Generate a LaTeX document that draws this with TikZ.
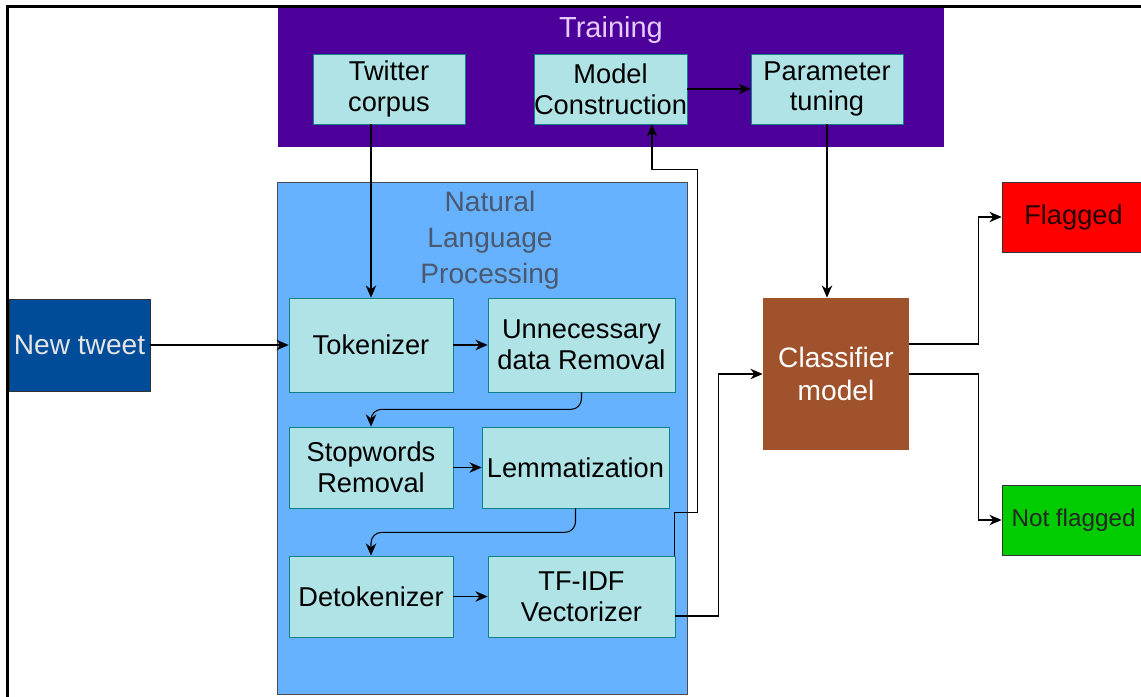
\documentclass[tikz,border=0pt]{standalone}
\usepackage{fontspec}
\setmainfont{Liberation Sans}
\usetikzlibrary{positioning,calc,arrows.meta}
\definecolor{train}{HTML}{4C0099}
\definecolor{trainfont}{HTML}{E5CCFF}
\definecolor{procfill}{HTML}{B0E3E6}
\definecolor{procline}{HTML}{0E8088}
\definecolor{nlpfill}{HTML}{66B2FF}
\definecolor{nlpfont}{HTML}{4A5870}
\definecolor{tweetfill}{HTML}{004C99}
\definecolor{classfill}{HTML}{A0522D}
\definecolor{flagfill}{HTML}{FF0000}
\definecolor{okfill}{HTML}{00CC00}

\tikzset{
  proc/.style={draw=procline, fill=procfill, inner sep=0pt, align=center,
    font=\fontsize{15.5}{17.5}\selectfont},
  group/.style={inner sep=0pt},
  result/.style={draw=black!80, inner sep=0pt, minimum width=2.86cm, minimum height=1.40cm,
    text=black!85!red, font=\fontsize{15.5}{17.5}\selectfont},
  link/.style={-{Stealth[length=7pt,width=6pt]}, line width=0.6pt},
}

\begin{document}
\begin{tikzpicture}[x=0.02cm, y=-0.02cm]
      \useasboundingbox (0,0) rectangle (1141,696);
      \draw[line width=0.06cm] (7.5,700) -- (7.5,6.5) -- (1145,6.5);

      % training block
      \node[group, fill=train, minimum width=13.32cm, minimum height=2.78cm] (training) at (611,77.5) {};
      \node[text=trainfont, font=\fontsize{16.5}{19}\selectfont] (traintitle) at (611,30) {Training};
      \node[proc, minimum width=3.04cm, minimum height=1.40cm] (corpus) at (389,89) {Twitter\\corpus};
      \node[proc, minimum width=3.02cm, minimum height=1.40cm] (construct) at (610.5,89) {Model\\Construction};
      \node[proc, minimum width=3.04cm, minimum height=1.40cm] (tuning) at (827,89) {Parameter\\tuning};

      % nlp block
      \node[group, draw=black!70, fill=nlpfill, minimum width=8.20cm, minimum height=10.24cm] (nlp) at (482,438) {};
      \node[text=nlpfont, align=center, font=\fontsize{16}{20.4}\selectfont] (nlptitle) at (490,240) {Natural\\Language\\Processing};
      \node[proc, minimum width=3.28cm, minimum height=1.88cm] (tokenizer) at (371,345) {Tokenizer};
      \node[proc, minimum width=3.74cm, minimum height=1.88cm] (cleaning) at (581.5,345) {Unnecessary\\data Removal};
      \node[proc, minimum width=3.28cm, minimum height=1.62cm] (stopwords) at (371,467.5) {Stopwords\\Removal};
      \node[proc, minimum width=3.74cm, minimum height=1.62cm] (lemma) at (575.5,467.5) {Lemmatization};
      \node[proc, minimum width=3.28cm, minimum height=1.62cm] (detok) at (371,596.5) {Detokenizer};
      \node[proc, minimum width=3.74cm, minimum height=1.62cm] (tfidf) at (581.5,596.5) {TF-IDF\\Vectorizer};

      \node[draw=black!80, fill=tweetfill, text=black!10, inner sep=0pt, minimum width=2.82cm, minimum height=1.84cm,
        font=\fontsize{16}{18}\selectfont] (tweet) at (79.5,345) {New tweet};
      \node[fill=classfill, text=white, align=center, inner sep=0pt, minimum width=2.92cm, minimum height=3.04cm,
        font=\fontsize{16}{19}\selectfont] (classifier) at (836,374) {Classifier\\model};
      \node[result, fill=flagfill] (flagged) at (1073.5,217) {Flagged};
      \node[result, fill=okfill, text=black!85, font=\fontsize{13.8}{16}\selectfont] (notflagged) at (1073.5,520) {Not flagged};

      % connectors
      \draw[link] (tokenizer.north |- corpus.south) -- (tokenizer.north);
      \draw[link] (construct) -- (tuning);
      \draw[link] (tweet) -- (tokenizer);
      \draw[link] (tokenizer) -- (cleaning);
      \draw[link, rounded corners=6pt] (cleaning.south) -- ++(0,17) -| (stopwords.north);
      \draw[link] (stopwords) -- (lemma);
      \draw[link, rounded corners=6pt] (lemma.south) -- ++(0,24) -| (detok.north);
      \draw[link] (detok) -- (tfidf);
      \draw[link] ([xshift=-0.5pt]tfidf.north east) -- ++(0,-43) -| ++(23,-343) -| ([xshift=0.83cm]construct.south);
      \draw[link] ([yshift=-0.39cm]tfidf.east) -- ++(43,0) |- (classifier.west);
      \draw[link] (tuning.south) -- (tuning.south |- classifier.north);
      \draw[link] ([yshift=0.6cm]classifier.east) -- ++(69,0) |- (flagged.west);
      \draw[link] (classifier.east) -- ++(69,0) |- (notflagged.west);
\end{tikzpicture}
\end{document}
